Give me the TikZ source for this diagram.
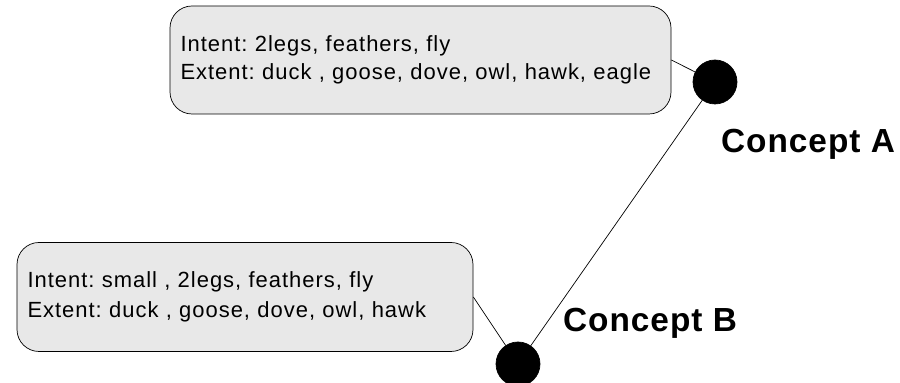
\documentclass[tikz,border=0pt]{standalone}
\usepackage{fontspec}
\setmainfont{Liberation Sans}
\usepackage{tikz}
\usetikzlibrary{positioning}
\definecolor{boxgray}{RGB}{232,232,232}
\tikzset{
    infobox/.style={
                draw=black,
                thin,
                fill=boxgray,
                rounded corners=0.44cm,
                align=left,
                inner xsep=0.21cm,
                font=\fontsize{12.5}{15.9}\selectfont\addfontfeature{LetterSpace=4.5}\frenchspacing
            },
        concept/.style={
                circle,
                fill=black,
                draw=black,
                minimum size=0.88cm,
                inner sep=0pt
            },
        conceptlabel/.style={
                anchor=base,
                font=\fontsize{19}{22}\bfseries\selectfont\addfontfeature{LetterSpace=3}
            },
        link/.style={black, thin}
}
\begin{document}
\begin{tikzpicture}
\useasboundingbox (0,0) rectangle (18,7.66);
% Concepts
\node[concept] (cA) at (14.3,6.02) {};
\node[concept] (cB) at (10.36,0.38) {};
\node[conceptlabel] (lA) at (16.16,4.6) {Concept A};
\node[conceptlabel] (lB) at (13.0,1.02) {Concept B};
% Intent and extent boxes
\node[infobox, minimum width=10.02cm, minimum height=2.16cm, text width=9.6cm] (bA) at (8.41,6.46)
  {Intent: 2legs, feathers, fly\\Extent: duck , goose, dove, owl, hawk, eagle};
\node[infobox, minimum width=9.12cm, minimum height=2.18cm, text width=8.7cm] (bB) at (4.9,1.72)
  {Intent: small , 2legs, feathers, fly\\[1pt]Extent: duck , goose, dove, owl, hawk};
% Links
\draw[link] (bA.east) -- (cA);
\draw[link] (cA) -- (cB);
\draw[link] (bB.east) -- (cB);
\end{tikzpicture}
\end{document}
